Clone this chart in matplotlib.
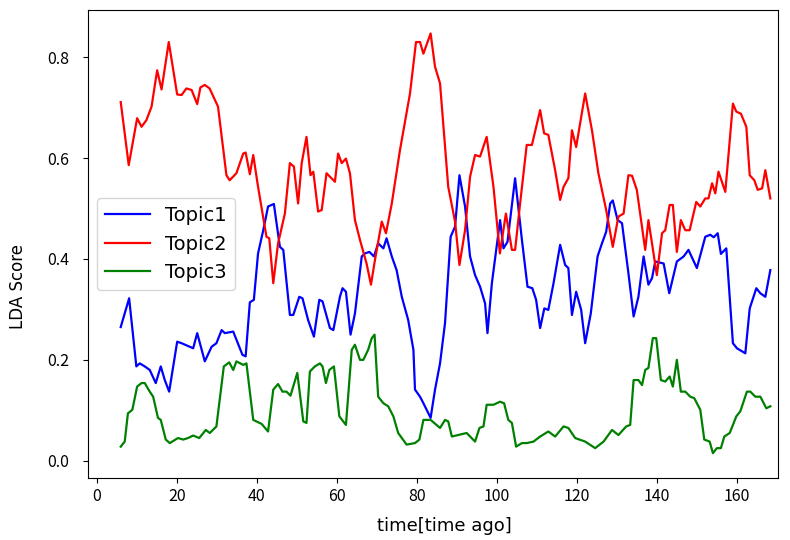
import matplotlib
matplotlib.use("Agg")
import matplotlib.pyplot as plt

plt.rcParams['font.family'] = ['Noto Sans CJK JP', 'DejaVu Sans']

# Topic1 (blue)
t1_time = [6, 8.1, 9.9, 10.75, 12, 13.25, 14.75, 16, 17, 18.1, 20.1, 21.2, 23.25, 24.1,
           25.1, 27, 28.7, 29.9, 31.2, 32, 34.1, 34.9, 36.4, 37.2, 38.25, 39.25, 40.3,
           41.6, 42.8, 44.25, 45.75, 46.6, 48.25, 49.1, 50.6, 51.4, 52.8, 54.25, 55.6,
           56.4, 58.25, 59.1, 60.75, 61.4, 62.25, 63.4, 64.5, 66.2, 67, 68.1, 69.25,
           70.3, 71.6, 72.4, 73.7, 74.9, 76.2, 77.8, 79.1, 79.5, 80.75, 81.6, 83.4,
           84.5, 85.75, 87, 88.4, 89.5, 90.6, 92, 93.25, 94.5, 95.75, 97, 97.6, 98.7,
           100.75, 101.6, 102.6, 104.5, 106.2, 107.6, 108.8, 109.75, 110.75, 111.8,
           112.8, 114.1, 115.75, 117, 117.8, 118.7, 119.75, 121, 122, 123.4, 125.1,
           126.2, 127.25, 128.25, 128.9, 130.1, 131.2, 132.8, 134.1, 135.3, 136.6,
           137.8, 138.7, 139.5, 141.6, 143, 144.9, 146.6, 147.8, 149.9, 152, 153.25,
           154.1, 155.1, 155.9, 157.25, 158.9, 159.9, 162, 163.1, 164.75, 165.75, 167,
           168.25]
t1_score = [0.265, 0.322, 0.187, 0.193, 0.187, 0.180, 0.154, 0.187, 0.160, 0.137, 0.236,
            0.233, 0.226, 0.223, 0.253, 0.197, 0.226, 0.233, 0.259, 0.253, 0.256, 0.240,
            0.210, 0.207, 0.314, 0.319, 0.411, 0.457, 0.504, 0.509, 0.424, 0.418, 0.289,
            0.289, 0.325, 0.322, 0.279, 0.246, 0.319, 0.316, 0.263, 0.259, 0.325, 0.342,
            0.335, 0.250, 0.292, 0.405, 0.411, 0.414, 0.405, 0.431, 0.421, 0.441, 0.405,
            0.378, 0.325, 0.279, 0.220, 0.141, 0.127, 0.114, 0.085, 0.141, 0.193, 0.273,
            0.444, 0.464, 0.566, 0.504, 0.405, 0.368, 0.345, 0.312, 0.253, 0.352, 0.477,
            0.421, 0.434, 0.560, 0.438, 0.345, 0.342, 0.319, 0.263, 0.302, 0.299, 0.352,
            0.428, 0.388, 0.382, 0.289, 0.335, 0.299, 0.233, 0.292, 0.405, 0.431, 0.454,
            0.510, 0.516, 0.477, 0.471, 0.372, 0.286, 0.325, 0.405, 0.349, 0.362, 0.395,
            0.391, 0.332, 0.395, 0.405, 0.418, 0.382, 0.444, 0.448, 0.443, 0.451, 0.410,
            0.421, 0.233, 0.223, 0.213, 0.302, 0.342, 0.332, 0.325, 0.378]

# Topic2 (red)
t2_time = [6, 8, 10.1, 11.2, 12.4, 13.7, 15.1, 16.2, 18, 20.1, 21.2, 22.4, 23.7, 25.1,
           25.9, 27, 28.2, 30.3, 32.4, 33.2, 34.9, 36.6, 37.2, 38.25, 39.1, 40.3, 42.4,
           43.1, 44.1, 45.3, 47, 48.25, 49.25, 50.3, 51.2, 52.4, 53.4, 54.1, 55.3, 56.2,
           57.4, 59.5, 60.3, 61.2, 62.25, 63.25, 64.5, 65.75, 67.4, 68.5, 69.5, 71.2,
           72.25, 73.7, 75.75, 78.25, 79.75, 80.75, 81.6, 83.4, 84.5, 85.75, 87.8, 89.5,
           90.6, 92, 93.25, 94.5, 95.75, 97.4, 99.1, 100.7, 102.2, 103.7, 104.5, 105.75,
           107.4, 108.7, 110.75, 111.75, 112.8, 114.5, 115.75, 116.6, 117.8, 118.7,
           119.75, 122, 123.7, 125.3, 127.25, 128.9, 130.3, 131.6, 132.8, 133.7, 134.9,
           137, 137.8, 139.9, 141.2, 142, 143.1, 143.9, 144.9, 145.9, 147, 148.1, 149.75,
           150.75, 152, 152.8, 153.7, 154.5, 155.3, 157, 158.9, 159.75, 160.9, 162.25,
           163.1, 164.25, 165.1, 166.2, 167, 168.25]
t2_score = [0.711, 0.586, 0.679, 0.662, 0.675, 0.702, 0.774, 0.736, 0.830, 0.726, 0.725,
            0.738, 0.735, 0.707, 0.740, 0.745, 0.738, 0.702, 0.566, 0.556, 0.570, 0.609,
            0.611, 0.568, 0.606, 0.543, 0.444, 0.441, 0.352, 0.431, 0.490, 0.590, 0.583,
            0.510, 0.590, 0.642, 0.566, 0.573, 0.494, 0.497, 0.570, 0.553, 0.609, 0.590,
            0.599, 0.570, 0.477, 0.438, 0.391, 0.349, 0.398, 0.474, 0.451, 0.510, 0.616,
            0.728, 0.830, 0.830, 0.807, 0.847, 0.781, 0.748, 0.543, 0.474, 0.388, 0.457,
            0.563, 0.606, 0.603, 0.642, 0.543, 0.411, 0.490, 0.418, 0.418, 0.510, 0.626,
            0.626, 0.695, 0.649, 0.646, 0.576, 0.517, 0.543, 0.560, 0.655, 0.622, 0.728,
            0.655, 0.570, 0.497, 0.424, 0.484, 0.490, 0.566, 0.565, 0.537, 0.418, 0.477,
            0.368, 0.451, 0.457, 0.507, 0.507, 0.414, 0.477, 0.457, 0.457, 0.513, 0.504,
            0.520, 0.520, 0.550, 0.530, 0.573, 0.533, 0.708, 0.692, 0.688, 0.662, 0.566,
            0.556, 0.537, 0.540, 0.576, 0.520]

# Topic3 (green)
t3_time = [6, 7, 7.8, 8.9, 10.1, 11.2, 12, 13.25, 14.1, 15.3, 16, 17.25, 18.25, 20.3,
           21.6, 22.8, 24.1, 25.6, 27.25, 28.25, 29.9, 31.75, 33.1, 34.1, 34.9, 36.6,
           37.4, 39.1, 41.2, 42.8, 44.1, 45.3, 46.4, 47.4, 48.4, 50.1, 51.6, 52.4, 53.25,
           54.5, 55.75, 56.4, 57.25, 58.1, 59.25, 60.6, 62.25, 63.7, 64.5, 65.75, 66.6,
           67.8, 68.7, 69.4, 70.3, 71.6, 72.8, 74.1, 75.3, 77.4, 79.5, 80.6, 81.6, 83.4,
           85.75, 87, 87.8, 88.7, 90.3, 92.4, 94.5, 95.6, 96.6, 97.4, 99.1, 100.75,
           101.75, 102.8, 103.7, 104.75, 106.2, 107.4, 109.1, 110.75, 112.8, 114.5,
           116.6, 117.8, 119.5, 122, 124.5, 126.6, 128.7, 130.3, 132.25, 133.25, 134.1,
           135.3, 136.2, 137, 137.8, 138.9, 139.75, 140.9, 142, 143.1, 143.9, 144.9,
           145.9, 147, 148.25, 149.25, 150.75, 151.75, 153.1, 153.9, 154.9, 155.9,
           156.75, 158.1, 159.75, 160.75, 162.4, 163.25, 164.5, 165.75, 167.25, 168.25]
t3_score = [0.028, 0.038, 0.094, 0.101, 0.147, 0.154, 0.154, 0.137, 0.127, 0.085, 0.081,
            0.042, 0.035, 0.045, 0.042, 0.045, 0.050, 0.045, 0.061, 0.055, 0.068, 0.187,
            0.195, 0.180, 0.197, 0.190, 0.193, 0.081, 0.073, 0.058, 0.141, 0.152, 0.137,
            0.137, 0.129, 0.174, 0.078, 0.075, 0.177, 0.187, 0.193, 0.187, 0.154, 0.180,
            0.187, 0.088, 0.071, 0.220, 0.230, 0.200, 0.200, 0.220, 0.243, 0.250, 0.127,
            0.114, 0.108, 0.088, 0.055, 0.032, 0.035, 0.042, 0.081, 0.081, 0.065, 0.081,
            0.078, 0.048, 0.051, 0.055, 0.038, 0.065, 0.068, 0.111, 0.111, 0.117, 0.114,
            0.081, 0.075, 0.028, 0.035, 0.035, 0.038, 0.048, 0.058, 0.048, 0.068, 0.065,
            0.045, 0.038, 0.025, 0.038, 0.061, 0.051, 0.068, 0.071, 0.160, 0.160, 0.150,
            0.180, 0.184, 0.243, 0.243, 0.160, 0.157, 0.167, 0.147, 0.200, 0.137, 0.137,
            0.127, 0.124, 0.101, 0.042, 0.038, 0.015, 0.025, 0.025, 0.048, 0.055, 0.088,
            0.098, 0.137, 0.137, 0.127, 0.127, 0.104, 0.108]

fig = plt.figure(figsize=(7.9, 5.4), dpi=100)
ax = fig.add_axes([0.111, 0.115, 0.874, 0.866])
ax.plot(t1_time, t1_score, color="blue", linewidth=1.6, label="Topic1")
ax.plot(t2_time, t2_score, color="red", linewidth=1.6, label="Topic2")
ax.plot(t3_time, t3_score, color="green", linewidth=1.6, label="Topic3")
ax.set_xlim(-2.25, 170.2)
ax.set_ylim(-0.034, 0.893)
ax.set_xticks(range(0, 161, 20))
ax.set_yticks([0.0, 0.2, 0.4, 0.6, 0.8])
ax.tick_params(labelsize=11.5)
ax.tick_params(axis='y', pad=10)
wide = ['DejaVu Sans']
ax.set_xlabel("time[time ago]", fontsize=13, family=wide)
ax.set_ylabel("LDA Score", fontsize=12, family=wide)
ax.xaxis.set_label_coords(0.517, -0.083)
ax.yaxis.set_label_coords(-0.088, 0.41)
ax.legend(loc="center left", prop={'family': wide, 'size': 14}, handlelength=2.3)
fig.savefig("out.png")
